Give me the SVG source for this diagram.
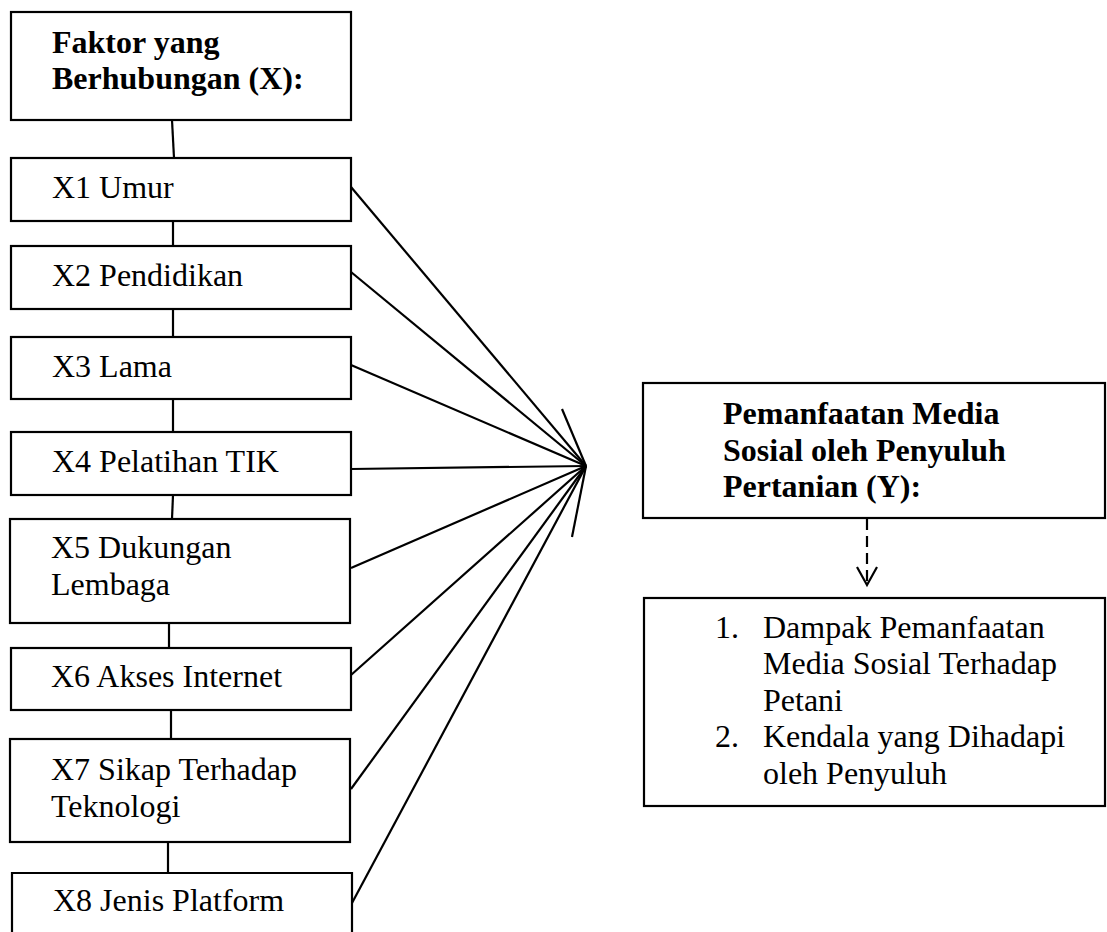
<svg xmlns="http://www.w3.org/2000/svg" width="1107" height="932" viewBox="0 0 1107 932">
<style>
.box{fill:#fff;stroke:#000;stroke-width:2.2}
.t{font-family:"Liberation Serif","Times New Roman",serif;font-size:32px;fill:#000}
.b{font-weight:bold}
.ln{stroke:#000;stroke-width:2.2;fill:none}
</style>
<rect width="1107" height="932" fill="#fff"/>
<g id="connectors">
<line class="ln" x1="172" y1="120" x2="174" y2="158"/>
<line class="ln" x1="173" y1="221" x2="173" y2="246"/>
<line class="ln" x1="173" y1="309" x2="173" y2="337"/>
<line class="ln" x1="173" y1="399" x2="173" y2="432"/>
<line class="ln" x1="173" y1="495" x2="172" y2="519"/>
<line class="ln" x1="169" y1="623" x2="169" y2="648"/>
<line class="ln" x1="171" y1="710" x2="171" y2="739"/>
<line class="ln" x1="168" y1="842" x2="168" y2="873"/>
<line class="ln" x1="351" y1="187" x2="586" y2="466"/>
<line class="ln" x1="351" y1="272" x2="586" y2="466"/>
<line class="ln" x1="351" y1="365" x2="586" y2="466"/>
<line class="ln" x1="351" y1="469" x2="586" y2="466"/>
<line class="ln" x1="351" y1="568" x2="586" y2="466"/>
<line class="ln" x1="351" y1="675" x2="586" y2="466"/>
<line class="ln" x1="351" y1="789" x2="586" y2="466"/>
<line class="ln" x1="352" y1="903" x2="586" y2="466"/>
<line class="ln" x1="562" y1="409" x2="586" y2="466"/>
<line class="ln" x1="572" y1="537" x2="586" y2="466"/>
<line class="ln" x1="867" y1="519" x2="867" y2="583" stroke-dasharray="11,6"/>
<polyline class="ln" points="857,567 867,585 877,567"/>
</g>
<g id="header-x">
<rect class="box" x="11" y="12" width="340" height="108"/>
<text class="t b" x="52" y="53">Faktor yang</text>
<text class="t b" x="52" y="89">Berhubungan (X):</text>
</g>
<g id="x1">
<rect class="box" x="11" y="158" width="340" height="63"/>
<text class="t" x="52" y="198">X1 Umur</text>
</g>
<g id="x2">
<rect class="box" x="11" y="246" width="340" height="63"/>
<text class="t" x="52" y="286">X2 Pendidikan</text>
</g>
<g id="x3">
<rect class="box" x="11" y="337" width="340" height="62"/>
<text class="t" x="52" y="377">X3 Lama</text>
</g>
<g id="x4">
<rect class="box" x="11" y="432" width="340" height="63"/>
<text class="t" x="52" y="472">X4 Pelatihan TIK</text>
</g>
<g id="x5">
<rect class="box" x="10" y="519" width="340" height="104"/>
<text class="t" x="51" y="558">X5 Dukungan</text>
<text class="t" x="51" y="595">Lembaga</text>
</g>
<g id="x6">
<rect class="box" x="11" y="648" width="340" height="62"/>
<text class="t" x="51" y="687">X6 Akses Internet</text>
</g>
<g id="x7">
<rect class="box" x="10" y="739" width="340" height="103"/>
<text class="t" x="51" y="780">X7 Sikap Terhadap</text>
<text class="t" x="51" y="817">Teknologi</text>
</g>
<g id="x8">
<path class="box" d="M12,940 V873 H352 V940"/>
<text class="t" x="53" y="911">X8 Jenis Platform</text>
</g>
<g id="y">
<rect class="box" x="643" y="383" width="462" height="135"/>
<text class="t b" x="723" y="424">Pemanfaatan Media</text>
<text class="t b" x="723" y="461">Sosial oleh Penyuluh</text>
<text class="t b" x="723" y="497">Pertanian (Y):</text>
</g>
<g id="outcomes">
<rect class="box" x="644" y="598" width="461" height="208"/>
<text class="t" x="715" y="638">1.</text>
<text class="t" x="763" y="638">Dampak Pemanfaatan</text>
<text class="t" x="763" y="674">Media Sosial Terhadap</text>
<text class="t" x="763" y="711">Petani</text>
<text class="t" x="715" y="747">2.</text>
<text class="t" x="763" y="747">Kendala yang Dihadapi</text>
<text class="t" x="763" y="784">oleh Penyuluh</text>
</g>
</svg>
